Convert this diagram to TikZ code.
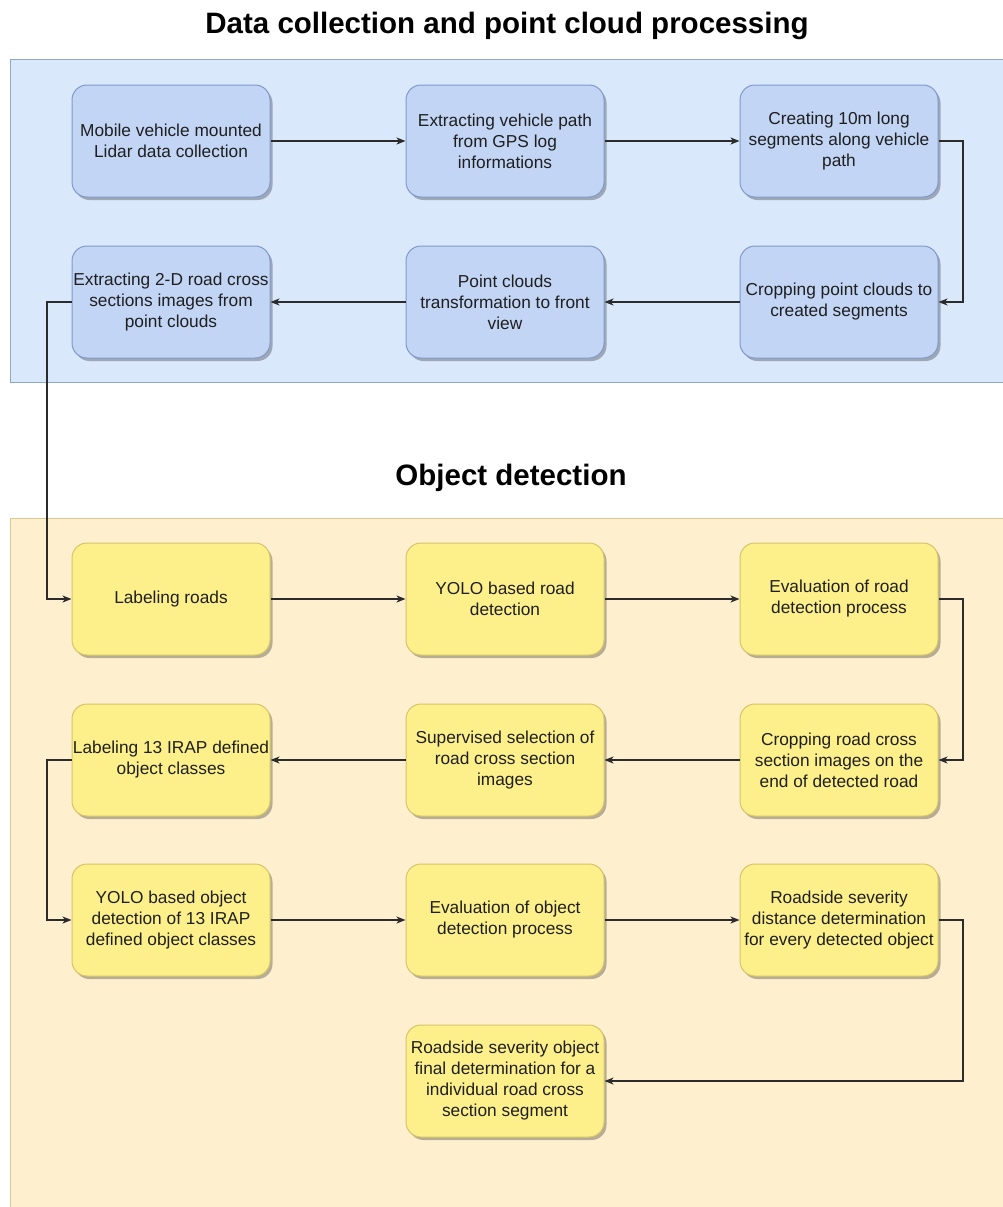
\documentclass[tikz,border=0pt]{standalone}
\usepackage{fontspec}
\setmainfont{Liberation Sans}
\usetikzlibrary{arrows.meta,shadows}

\definecolor{panelblue}{HTML}{DAE8FC}
\definecolor{panelblueline}{HTML}{8FA8C8}
\definecolor{boxblue}{HTML}{C2D5F5}
\definecolor{boxblueline}{HTML}{7F9BC9}
\definecolor{panelorange}{HTML}{FEF0CF}
\definecolor{panelorangeline}{HTML}{D8C88E}
\definecolor{boxyellow}{HTML}{FDF08A}
\definecolor{boxyellowline}{HTML}{D6C46A}
\definecolor{wire}{HTML}{2B2B2B}

\tikzset{
  stepbox/.style={draw, line width=1pt, rounded corners=15pt,
    minimum width=198pt, minimum height=112pt, inner sep=0pt,
    align=center, text=black!88,
    font=\fontsize{17.3}{21}\selectfont,
    drop shadow={shadow xshift=2.5pt, shadow yshift=-3pt, fill=black, opacity=0.28}},
  bluebox/.style={stepbox, fill=boxblue, draw=boxblueline},
  yellowbox/.style={stepbox, fill=boxyellow, draw=boxyellowline},
  heading/.style={font=\fontsize{29.5}{34}\selectfont\bfseries, text=black},
  link/.style={draw=wire, line width=1.2pt, -{Stealth[length=9pt,width=7pt,inset=2.5pt]}},
}

\begin{document}
\begin{tikzpicture}[x=1pt,y=-1pt]
  \useasboundingbox (0,0) rectangle (1002,1207);
  \fill[white] (0,0) rectangle (1002,1207);

  % stage panels
  \draw[fill=panelblue, draw=panelblueline, line width=1pt] (10,60) rectangle (1010,382);
  \draw[fill=panelorange, draw=panelorangeline, line width=1pt] (10,518) rectangle (1010,1215);

  \node[heading] (t1) at (507,26) {Data collection and point cloud processing};
  \node[heading] (t2) at (511,478) {Object detection};

  % point cloud stage
  \node[bluebox] (a1) at (171,141) {Mobile vehicle mounted\\Lidar data collection};
  \node[bluebox] (a2) at (505,141) {Extracting vehicle path\\from GPS log\\informations};
  \node[bluebox] (a3) at (839,141) {Creating 10m long\\segments along vehicle\\path};
  \node[bluebox] (b3) at (839,302) {Cropping point clouds to\\created segments};
  \node[bluebox] (b2) at (505,302) {Point clouds\\transformation to front\\view};
  \node[bluebox] (b1) at (171,302) {Extracting 2-D road cross\\sections images from\\point clouds};

  % detection stage
  \node[yellowbox] (c1) at (171,599) {Labeling roads};
  \node[yellowbox] (c2) at (505,599) {YOLO based road\\detection};
  \node[yellowbox] (c3) at (839,599) {Evaluation of road\\detection process};
  \node[yellowbox] (d3) at (839,760) {Cropping road cross\\section images on the\\end of detected road};
  \node[yellowbox] (d2) at (505,760) {Supervised selection of\\road cross section\\images};
  \node[yellowbox] (d1) at (171,760) {Labeling 13 IRAP defined\\object classes};
  \node[yellowbox] (e1) at (171,920) {YOLO based object\\detection of 13 IRAP\\defined object classes};
  \node[yellowbox] (e2) at (505,920) {Evaluation of object\\detection process};
  \node[yellowbox] (e3) at (839,920) {Roadside severity\\distance determination\\for every detected object};
  \node[yellowbox] (f2) at (505,1081) {Roadside severity object\\final determination for a\\individual road cross\\section segment};

  % routing columns for the turn-around links
  \coordinate (rr) at (963,0);
  \coordinate (ll) at (47,0);

  \draw[link] (a1) -- (a2);
  \draw[link] (a2) -- (a3);
  \draw[link] (a3.east) -- (a3.east -| rr) -- (b3.east -| rr) -- (b3.east);
  \draw[link] (b3) -- (b2);
  \draw[link] (b2) -- (b1);
  \draw[link] (b1.west) -- (b1.west -| ll) -- (c1.west -| ll) -- (c1.west);

  \draw[link] (c1) -- (c2);
  \draw[link] (c2) -- (c3);
  \draw[link] (c3.east) -- (c3.east -| rr) -- (d3.east -| rr) -- (d3.east);
  \draw[link] (d3) -- (d2);
  \draw[link] (d2) -- (d1);
  \draw[link] (d1.west) -- (d1.west -| ll) -- (e1.west -| ll) -- (e1.west);
  \draw[link] (e1) -- (e2);
  \draw[link] (e2) -- (e3);
  \draw[link] (e3.east) -- (e3.east -| rr) -- (f2.east -| rr) -- (f2.east);
\end{tikzpicture}
\end{document}
